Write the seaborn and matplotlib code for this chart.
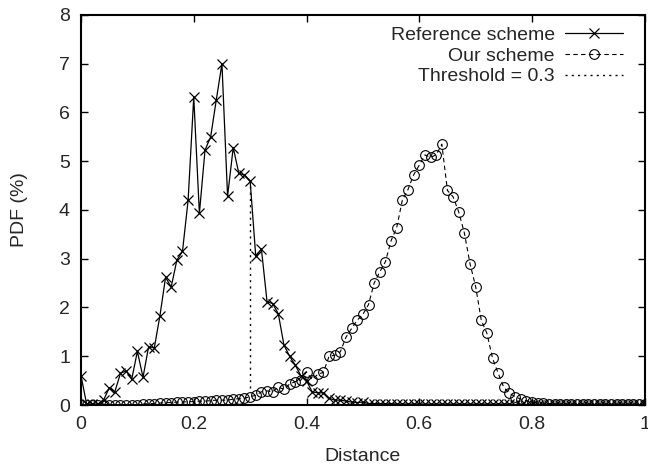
import numpy as np
import pandas as pd
import matplotlib
matplotlib.use('Agg')
import matplotlib.pyplot as plt
import seaborn as sns

sns.set_theme(style="ticks")
plt.rcParams['font.family'] = ['Liberation Sans', 'DejaVu Sans']

# distance grid, step 0.01
distance = [round(i * 0.01, 2) for i in range(101)]

reference_pdf = [
    0.6, 0.02, 0.02, 0.02, 0.1, 0.35, 0.27, 0.65, 0.7, 0.53,      # 0.00-0.09
    1.1, 0.57, 1.2, 1.17, 1.83, 2.62, 2.42, 2.97, 3.15, 4.2,      # 0.10-0.19
    6.32, 3.93, 5.23, 5.5, 6.26, 7.0, 4.28, 5.28, 4.75, 4.72,     # 0.20-0.29
    4.6, 3.05, 3.2, 2.12, 2.08, 1.87, 1.23, 1.0, 0.82, 0.6,       # 0.30-0.39
    0.5, 0.27, 0.25, 0.25, 0.14, 0.1, 0.1, 0.08, 0.06, 0.05,      # 0.40-0.49
    0.06, 0.03, 0.03, 0.03, 0.02, 0.03, 0.02, 0.02, 0.02, 0.02,   # 0.50-0.59
    0.02, 0.02, 0.02, 0.02, 0.02, 0.02, 0.02, 0.02, 0.02, 0.02,   # 0.60-0.69
    0.02, 0.02, 0.02, 0.02, 0.02, 0.02, 0.02, 0.01, 0.01, 0.01,   # 0.70-0.79
    0.01, 0.01, 0.01, 0.01, 0.01, 0.01, 0.01, 0.01, 0.01, 0.01,   # 0.80-0.89
    0.01, 0.01, 0.01, 0.01, 0.01, 0.01, 0.01, 0.01, 0.01, 0.01,   # 0.90-0.99
    0.01,                                                          # 1.00
]

our_pdf = [
    0.0, 0.0, 0.0, 0.0, 0.0, 0.01, 0.01, 0.01, 0.01, 0.01,        # 0.00-0.09
    0.01, 0.02, 0.03, 0.03, 0.04, 0.05, 0.05, 0.06, 0.06, 0.07,   # 0.10-0.19
    0.07, 0.08, 0.08, 0.09, 0.10, 0.10, 0.10, 0.12, 0.13, 0.14,   # 0.20-0.29
    0.17, 0.2, 0.27, 0.29, 0.27, 0.37, 0.32, 0.43, 0.48, 0.51,    # 0.30-0.39
    0.68, 0.52, 0.63, 0.67, 1.0, 1.02, 1.09, 1.39, 1.57, 1.74,    # 0.40-0.49
    1.86, 2.06, 2.5, 2.73, 2.94, 3.37, 3.64, 4.2, 4.42, 4.72,     # 0.50-0.59
    4.92, 5.13, 5.08, 5.13, 5.35, 4.4, 4.27, 3.96, 3.53, 2.9,     # 0.60-0.69
    2.43, 1.74, 1.47, 0.96, 0.65, 0.36, 0.24, 0.17, 0.12, 0.09,   # 0.70-0.79
    0.06, 0.05, 0.04, 0.03, 0.03, 0.02, 0.02, 0.02, 0.02, 0.02,   # 0.80-0.89
    0.02, 0.02, 0.02, 0.02, 0.02, 0.02, 0.02, 0.02, 0.02, 0.02,   # 0.90-0.99
    0.02,                                                          # 1.00
]

threshold = 0.3
threshold_top = reference_pdf[30]

xtick_values = [0, 0.2, 0.4, 0.6, 0.8, 1.0]
xtick_labels = ['0', '0.2', '0.4', '0.6', '0.8', '1']
ytick_values = [0, 1, 2, 3, 4, 5, 6, 7, 8]

df = pd.DataFrame({'distance': distance, 'reference': reference_pdf, 'ours': our_pdf})

fig = plt.figure(figsize=(6.48, 4.68), dpi=100)
ax = fig.add_axes([0.125, 0.1346, 0.87, 0.8334])

# seaborn defaults marker edges to white, so force black
sns.lineplot(data=df, x='distance', y='reference', ax=ax, color='black', lw=0.9,
             marker='x', markersize=6.5, markeredgecolor='black', markeredgewidth=0.9,
             label='Reference scheme')
sns.lineplot(data=df, x='distance', y='ours', ax=ax, color='black', lw=0.8,
             linestyle=(0, (4, 3)), marker='o', markersize=7, markerfacecolor='none',
             markeredgecolor='black', markeredgewidth=0.8, label='Our scheme')
ax.plot([threshold, threshold], [0.35, threshold_top], color='black', lw=1.0,
        linestyle=(0, (1.5, 3)), label='Threshold = 0.3')

ax.set_xlim(0, 1)
ax.set_ylim(0, 8)
ax.set_xticks(xtick_values)
ax.set_xticklabels(xtick_labels)
ax.set_yticks(ytick_values)
ax.tick_params(direction='in', length=5, width=1, top=True, right=True,
               labelsize=14, color='black')
ax.tick_params(axis='x', pad=8)
ax.tick_params(axis='y', pad=8)
for s in ax.spines.values():
    s.set_linewidth(1.5)
    s.set_color('black')
ax.set_xlabel('Distance', fontsize=14, labelpad=11)
ax.set_ylabel('PDF (%)', fontsize=14, labelpad=22)

ax.legend(loc='upper right', bbox_to_anchor=(0.975, 0.99), frameon=False,
          markerfirst=False, fontsize=14, handlelength=3.0, labelspacing=0.15,
          handletextpad=0.5, borderaxespad=0.0)

fig.savefig('out.png', dpi=100)
